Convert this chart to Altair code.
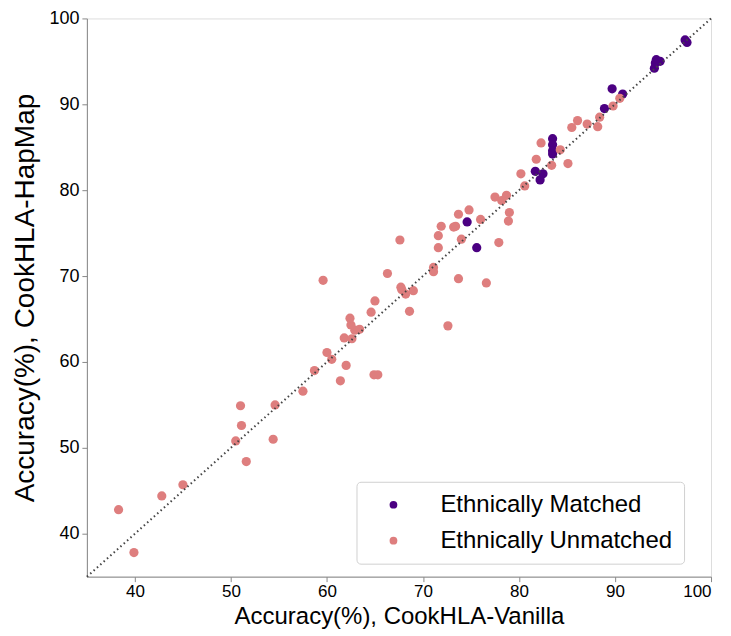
import altair as alt
import pandas as pd

matched_x = [97.3, 97.5, 94.3, 94.7, 94.2, 94.1, 89.7, 90.8, 88.9, 83.5, 83.5, 83.5, 83.5, 81.7, 82.5, 82.2, 74.6, 75.6]
matched_y = [97.5, 97.2, 95.2, 95.0, 94.8, 94.2, 91.8, 91.2, 89.5, 86.0, 85.3, 84.6, 84.2, 82.2, 81.9, 81.2, 76.3, 73.3]

unmatched_x = [38.3, 39.9, 42.8, 45.0, 50.5, 51.6, 54.4, 51.0, 51.1, 54.6,
               57.5, 58.7, 61.4, 64.9, 65.3, 62.0, 60.0, 60.5, 61.8, 62.6,
               62.9, 63.4, 62.5, 62.4, 64.6, 65.0, 68.6, 72.6, 67.7, 67.8,
               68.2, 69.0, 59.6, 66.3, 71.1, 71.1, 73.7, 76.6, 67.6, 71.6,
               71.6, 74.0, 77.9, 71.9, 73.2, 73.4, 73.7, 74.8, 76.0, 77.5,
               78.7, 78.2, 79.0, 78.9, 80.2, 80.6, 81.8, 82.3, 83.4, 84.3,
               85.1, 85.5, 86.1, 87.1, 88.2, 88.4, 89.8, 90.5]
unmatched_y = [42.8, 37.8, 44.4, 45.7, 50.8, 48.4, 51.0, 54.9, 52.6, 55.0,
               56.6, 59.0, 57.8, 58.5, 58.5, 59.6, 61.1, 60.3, 62.8, 62.7,
               63.7, 63.8, 64.3, 65.1, 65.8, 67.1, 65.9, 64.2, 68.7, 68.4,
               67.9, 68.3, 69.5, 70.3, 71.0, 70.5, 69.7, 69.2, 74.2, 73.3,
               74.7, 74.3, 73.9, 75.8, 75.7, 75.8, 77.2, 77.7, 76.6, 79.2,
               79.4, 78.8, 77.4, 76.4, 81.9, 80.5, 83.6, 85.5, 82.9, 84.7,
               83.1, 87.3, 88.1, 87.7, 87.4, 88.5, 89.8, 90.7]

groups = ["Ethnically Matched", "Ethnically Unmatched"]
colors = ["#4b0082", "#de7e7e"]
diag = [35, 100]

df = pd.concat([
    pd.DataFrame({"x": matched_x, "y": matched_y, "group": groups[0], "z": 0}),
    pd.DataFrame({"x": unmatched_x, "y": unmatched_y, "group": groups[1], "z": 1}),
])
line_df = pd.DataFrame({"x": diag, "y": diag})

font = "Liberation Sans"
xscale = alt.Scale(domain=[35, 100], nice=False, zero=False)
yscale = alt.Scale(domain=[35, 100], nice=False, zero=False)
ticks = [40, 50, 60, 70, 80, 90, 100]

points = alt.Chart(df).mark_circle(size=85, opacity=1).encode(
    x=alt.X("x:Q", scale=xscale,
            axis=alt.Axis(title="Accuracy(%), CookHLA-Vanilla", values=ticks, grid=False,
                          titleFontSize=24, titleFontWeight="normal", labelFontSize=17,
                          titleY=47, titleBaseline="alphabetic", labelPadding=2)),
    y=alt.Y("y:Q", scale=yscale,
            axis=alt.Axis(title="Accuracy(%), CookHLA-HapMap", values=ticks, grid=False,
                          titleFontSize=28, titleFontWeight="normal", labelFontSize=18,
                          titlePadding=9, labelPadding=3)),
    color=alt.Color("group:N", scale=alt.Scale(domain=groups, range=colors),
                    legend=alt.Legend(title=None, orient="none", legendX=270, legendY=464,
                                      labelFontSize=24, symbolSize=60, symbolType="circle",
                                      padding=11, strokeColor="#d0d0d0", fillColor="white",
                                      cornerRadius=4, symbolOffset=14, labelOffset=35,
                                      rowPadding=12, labelFont=font, labelColor="black",
                                      labelLimit=0)),
    order=alt.Order("z:Q"),
)

line = alt.Chart(line_df).mark_line(color="#444444", strokeDash=[1.5, 3], strokeWidth=2).encode(
    x=alt.X("x:Q", scale=xscale),
    y=alt.Y("y:Q", scale=yscale),
)

chart = alt.layer(points, line).properties(
    width=625, height=559,
    autosize=alt.AutoSizeParams(type="none"),
    padding={"left": 79, "top": 10, "right": 12, "bottom": 58},
).configure_axis(
    labelFont=font, titleFont=font, labelColor="black", titleColor="black",
    domainColor="#555555", domainWidth=2, tickColor="black", tickWidth=1.5, tickSize=5,
    titleFontWeight="normal",
).configure_view(stroke=None).configure(background="white")

chart.save("out.html", embed_options={"renderer": "svg", "actions": False})
